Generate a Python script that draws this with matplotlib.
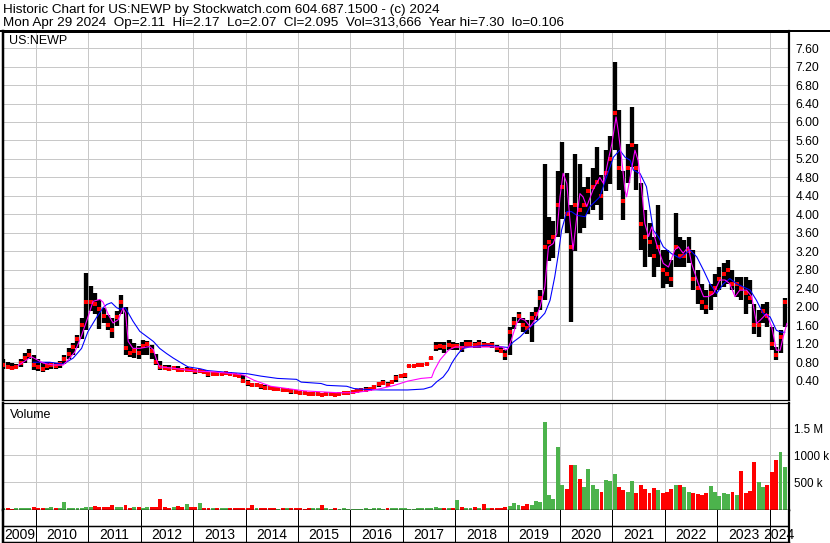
import matplotlib
matplotlib.use("Agg")
import matplotlib.pyplot as plt
import numpy as np
from matplotlib.lines import Line2D

# ---- data (monthly bars, Apr 2009 .. Apr 2024) ----
first_year, first_month = 2009, 4

price_hi = [
    0.82, 0.88, 0.80, 0.78, 0.76, 0.88, 0.99, 1.08, 0.95,
    0.88, 0.78, 0.80, 0.80, 0.78, 0.82, 0.95, 1.10, 1.22, 1.40, 1.75, 2.74,
    2.45, 2.30, 2.15, 1.98, 1.82, 1.75, 1.90, 2.25, 2.00, 1.30, 1.22, 1.15,
    1.28, 1.25, 1.18, 0.98, 0.82, 0.74, 0.74, 0.71, 0.71, 0.68, 0.69, 0.68,
    0.64, 0.63, 0.62, 0.59, 0.58, 0.56, 0.58, 0.59, 0.57, 0.57, 0.55, 0.52,
    0.42, 0.35, 0.34, 0.32, 0.30, 0.28, 0.27, 0.27, 0.23, 0.23, 0.21, 0.19,
    0.18, 0.16, 0.14, 0.16, 0.16, 0.14, 0.16, 0.16, 0.14, 0.16, 0.16, 0.17,
    0.19, 0.21, 0.23, 0.27, 0.27, 0.30, 0.37, 0.41, 0.37, 0.42, 0.52, 0.55,
    0.56, 0.75, 0.74, 0.77, 0.77, 0.78, 0.92, 1.24, 1.24, 1.24, 1.28, 1.24,
    1.21, 1.24, 1.28, 1.28, 1.24, 1.28, 1.24, 1.22, 1.24, 1.17, 1.13, 1.06,
    1.57, 1.78, 1.89, 1.75, 1.71, 1.89, 2.00, 2.36, 5.10, 3.95, 3.85, 4.95,
    5.57, 4.90, 4.20, 5.30, 5.10, 4.60, 4.80, 5.00, 5.45, 4.85, 5.40, 5.70,
    7.30, 6.25, 4.95, 5.53, 6.33, 5.53, 4.67, 4.10, 3.81, 3.52, 4.20, 3.23,
    3.23, 3.01, 4.02, 3.52, 3.45, 3.52, 3.23, 2.80, 2.50, 2.36, 2.50, 2.72,
    2.87, 2.94, 3.01, 2.79, 2.65, 2.65, 2.65, 2.58, 2.07, 1.92, 2.07, 2.11,
    1.56, 1.13, 1.49, 2.18,
]
price_lo = [
    0.66, 0.66, 0.65, 0.64, 0.67, 0.70, 0.78, 0.88, 0.64,
    0.62, 0.58, 0.64, 0.66, 0.66, 0.68, 0.76, 0.88, 0.95, 1.10, 1.30, 1.50,
    1.90, 1.85, 1.52, 1.65, 1.50, 1.32, 1.58, 1.85, 0.95, 0.92, 0.90, 0.88,
    0.95, 0.95, 0.88, 0.74, 0.64, 0.63, 0.62, 0.63, 0.60, 0.60, 0.61, 0.60,
    0.55, 0.56, 0.55, 0.48, 0.52, 0.51, 0.52, 0.53, 0.52, 0.48, 0.47, 0.34,
    0.29, 0.27, 0.26, 0.23, 0.19, 0.19, 0.18, 0.17, 0.16, 0.16, 0.12, 0.11,
    0.09, 0.09, 0.07, 0.09, 0.07, 0.07, 0.07, 0.08, 0.07, 0.09, 0.11, 0.11,
    0.12, 0.14, 0.16, 0.18, 0.19, 0.23, 0.27, 0.30, 0.27, 0.34, 0.37, 0.45,
    0.45, 0.70, 0.70, 0.72, 0.74, 0.75, 0.85, 1.05, 1.06, 0.99, 1.06, 1.06,
    1.06, 1.02, 1.10, 1.13, 1.10, 1.10, 1.13, 1.13, 1.10, 1.02, 0.99, 0.85,
    0.95, 1.53, 1.64, 1.46, 1.42, 1.24, 1.71, 1.93, 2.14, 3.00, 3.05, 3.50,
    3.90, 3.60, 1.67, 3.20, 3.60, 3.70, 4.00, 4.10, 4.20, 3.87, 4.50, 4.65,
    5.39, 4.52, 3.87, 4.67, 5.03, 4.52, 3.23, 2.87, 3.08, 2.65, 2.87, 2.40,
    2.50, 2.43, 2.87, 2.87, 2.87, 2.94, 2.36, 2.07, 1.92, 1.85, 1.92, 2.22,
    2.36, 2.43, 2.50, 2.36, 2.22, 2.14, 1.85, 2.07, 1.42, 1.35, 1.64, 1.57,
    1.06, 0.84, 0.99, 1.56,
]
price_close = [
    0.72, 0.75, 0.70, 0.68, 0.70, 0.78, 0.90, 0.95, 0.75,
    0.70, 0.65, 0.72, 0.74, 0.72, 0.76, 0.86, 0.98, 1.12, 1.30, 1.60, 2.10,
    2.10, 2.05, 1.95, 1.80, 1.60, 1.50, 1.78, 2.10, 1.10, 1.00, 1.05, 1.00,
    1.15, 1.20, 1.05, 0.80, 0.70, 0.68, 0.66, 0.67, 0.64, 0.63, 0.64, 0.63,
    0.60, 0.60, 0.58, 0.55, 0.55, 0.54, 0.55, 0.56, 0.54, 0.52, 0.50, 0.40,
    0.35, 0.30, 0.30, 0.28, 0.25, 0.24, 0.22, 0.22, 0.20, 0.20, 0.17, 0.15,
    0.14, 0.13, 0.11, 0.12, 0.12, 0.10, 0.11, 0.12, 0.10, 0.12, 0.13, 0.14,
    0.15, 0.17, 0.19, 0.20, 0.23, 0.26, 0.32, 0.35, 0.31, 0.38, 0.45, 0.50,
    0.52, 0.72, 0.72, 0.75, 0.75, 0.77, 0.90, 1.12, 1.15, 1.12, 1.18, 1.15,
    1.15, 1.10, 1.20, 1.20, 1.18, 1.20, 1.18, 1.18, 1.17, 1.10, 1.05, 0.95,
    1.45, 1.65, 1.80, 1.60, 1.55, 1.75, 1.85, 2.20, 3.30, 3.40, 3.50, 4.20,
    4.60, 4.00, 3.30, 4.20, 4.10, 4.20, 4.50, 4.60, 4.70, 4.40, 4.90, 5.20,
    6.20, 5.00, 4.30, 5.00, 5.50, 5.00, 3.80, 3.50, 3.40, 3.10, 3.30, 2.80,
    2.70, 2.60, 3.30, 3.10, 3.10, 3.20, 2.60, 2.40, 2.10, 2.00, 2.30, 2.40,
    2.60, 2.70, 2.80, 2.50, 2.50, 2.40, 2.30, 2.20, 1.60, 1.60, 1.90, 1.80,
    1.20, 0.95, 1.35, 2.10,
]
volume_k = [
    20, 25, 20, 18, 20, 22, 25, 30, 37,
    25, 30, 28, 43, 25, 30, 136, 30, 25, 35, 30, 40,
    45, 62, 50, 40, 55, 87, 40, 45, 74, 35, 50, 45,
    35, 55, 45, 40, 200, 40, 30, 45, 60, 40, 105, 40,
    50, 118, 35, 30, 25, 30, 25, 30, 25, 20, 25, 30,
    30, 87, 30, 25, 20, 25, 20, 18, 20, 22, 20, 25,
    20, 18, 22, 20, 25, 87, 20, 18, 20, 18, 20, 15,
    15, 18, 15, 20, 18, 20, 22, 18, 20, 25, 20, 22,
    20, 18, 15, 20, 22, 25, 30, 40, 35, 25, 30, 25,
    167, 40, 30, 35, 55, 30, 105, 35, 30, 35, 25, 50,
    60, 120, 80, 70, 105, 90, 150, 136, 1612, 260, 200, 1160,
    446, 380, 818, 818, 560, 420, 756, 446, 380, 320, 540, 520,
    650, 420, 360, 330, 520, 300, 446, 380, 300, 400, 360, 300,
    320, 380, 446, 446, 420, 330, 300, 280, 260, 300, 428, 320,
    250, 300, 280, 320, 260, 707, 300, 350, 880, 500, 420, 450,
    690, 911, 1066, 787,
]

# moving averages (decimal year, price)
fast_ma_t = [2009.66, 2009.91, 2010.14, 2010.33, 2010.52, 2010.58, 2010.74, 2010.87, 2010.98,
             2011.09, 2011.22, 2011.28, 2011.38, 2011.47, 2011.57, 2011.66, 2011.71, 2011.76,
             2011.85, 2011.98, 2012.17, 2012.24, 2012.30, 2012.36, 2012.62, 2013.02, 2013.40,
             2013.78, 2013.97, 2014.16, 2014.48, 2014.80, 2015.12, 2015.44, 2015.76, 2016.07,
             2016.33, 2016.58, 2016.84, 2017.09, 2017.35, 2017.55, 2017.60, 2017.71, 2017.87,
             2018.00, 2018.90, 2018.96, 2019.01, 2019.07, 2019.17, 2019.24, 2019.33, 2019.43,
             2019.52, 2019.62, 2019.71, 2019.78, 2019.87, 2019.94, 2020.00, 2020.06, 2020.13,
             2020.19, 2020.25, 2020.32, 2020.38, 2020.44, 2020.51, 2020.63, 2020.76, 2020.83,
             2020.92, 2020.99, 2021.07, 2021.11, 2021.18, 2021.24, 2021.27, 2021.34, 2021.43,
             2021.49, 2021.56, 2021.62, 2021.69, 2021.75, 2021.84, 2021.97, 2022.07, 2022.19,
             2022.26, 2022.35, 2022.45, 2022.51, 2022.64, 2022.74, 2022.83, 2022.93, 2023.05,
             2023.15, 2023.24, 2023.34, 2023.43, 2023.56, 2023.66, 2023.75, 2023.82, 2023.94,
             2024.04, 2024.13, 2024.20, 2024.26, 2024.33]
fast_ma = [0.73, 0.92, 0.78, 0.74, 0.74, 0.81, 1.02, 1.38, 1.74,
           2.12, 2.16, 2.10, 1.83, 1.65, 1.72, 1.97, 1.86, 1.25,
           1.10, 1.10, 1.14, 1.07, 0.85, 0.70, 0.67, 0.61, 0.59,
           0.55, 0.52, 0.41, 0.28, 0.23, 0.18, 0.16, 0.14, 0.14,
           0.18, 0.23, 0.30, 0.39, 0.45, 0.47, 0.62, 0.85, 1.06,
           1.13, 1.13, 1.06, 1.10, 1.28, 1.64, 1.75, 1.71, 1.57,
           1.71, 2.00, 2.43, 3.30, 3.37, 3.59, 4.38, 4.89, 4.67,
           3.88, 3.23, 3.95, 4.45, 4.38, 4.17, 4.53, 4.80, 4.67,
           5.17, 5.53, 6.11, 5.82, 5.17, 4.52, 4.38, 4.81, 5.39,
           5.17, 4.52, 3.80, 3.52, 3.73, 3.37, 2.94, 2.86, 3.23,
           3.30, 3.16, 3.30, 2.94, 2.50, 2.22, 2.22, 2.29, 2.58,
           2.58, 2.50, 2.22, 2.36, 2.36, 2.22, 1.64, 1.71, 1.85,
           1.57, 1.06, 1.06, 1.35, 1.64]

slow_ma_t = [2009.95, 2010.26, 2010.52, 2010.71, 2010.87, 2010.99, 2011.15, 2011.28, 2011.35,
             2011.44, 2011.54, 2011.60, 2011.70, 2011.76, 2011.85, 2011.98, 2012.11, 2012.24,
             2012.36, 2012.49, 2012.62, 2012.78, 2012.90, 2013.13, 2013.27, 2013.66, 2014.04,
             2014.29, 2014.61, 2014.97, 2015.06, 2015.44, 2015.55, 2015.93, 2016.07, 2016.33,
             2016.58, 2017.09, 2017.40, 2017.55, 2017.65, 2017.77, 2017.87, 2017.93, 2017.99,
             2018.06, 2018.15, 2018.28, 2018.60, 2018.92, 2019.01, 2019.11, 2019.24, 2019.36,
             2019.49, 2019.62, 2019.71, 2019.81, 2019.90, 2019.97, 2020.03, 2020.13, 2020.22,
             2020.32, 2020.48, 2020.57, 2020.70, 2020.76, 2020.89, 2021.02, 2021.14, 2021.24,
             2021.34, 2021.40, 2021.53, 2021.65, 2021.78, 2021.88, 2021.97, 2022.13, 2022.29,
             2022.48, 2022.61, 2022.74, 2022.86, 2022.99, 2023.12, 2023.24, 2023.37, 2023.50,
             2023.63, 2023.75, 2023.88, 2024.01, 2024.13, 2024.23, 2024.29]
slow_ma = [0.80, 0.80, 0.76, 0.89, 1.10, 1.46, 1.76, 1.98, 2.05,
           2.09, 1.98, 1.95, 1.98, 1.87, 1.69, 1.47, 1.36, 1.25,
           1.10, 0.99, 0.89, 0.78, 0.70, 0.66, 0.62, 0.58, 0.55,
           0.50, 0.45, 0.43, 0.37, 0.34, 0.30, 0.28, 0.23, 0.21,
           0.20, 0.20, 0.22, 0.27, 0.38, 0.48, 0.63, 0.77, 0.88,
           0.99, 1.10, 1.13, 1.17, 1.13, 1.12, 1.24, 1.35, 1.49,
           1.62, 1.75, 1.86, 2.14, 2.65, 3.15, 3.66, 4.06, 4.06,
           3.98, 3.95, 4.17, 4.31, 4.38, 4.82, 5.24, 5.39, 5.24,
           5.17, 4.96, 4.88, 4.60, 3.66, 3.51, 3.30, 3.15, 3.05,
           3.23, 3.08, 2.79, 2.50, 2.29, 2.50, 2.61, 2.50, 2.43,
           2.36, 2.14, 1.85, 1.78, 1.49, 1.45, 1.45]

price_ticks = [0.4, 0.8, 1.2, 1.6, 2.0, 2.4, 2.8, 3.2, 3.6, 4.0,
               4.4, 4.8, 5.2, 5.6, 6.0, 6.4, 6.8, 7.2, 7.6]
vol_ticks = [500, 1000, 1500]
vol_tick_labels = ["500 k", "1000 k", "1.5 M"]
years = list(range(2009, 2025))

title1 = "Historic Chart for US:NEWP by Stockwatch.com 604.687.1500 - (c) 2024"
title2 = ("Mon Apr 29 2024  Op=2.11  Hi=2.17  Lo=2.07  Cl=2.095  "
          "Vol=313,666  Year hi=7.30  lo=0.106")

# ---- layout helpers (pixel coords of the 830x543 picture) ----
W, H = 830, 543
plt.rcParams["font.family"] = ["Liberation Sans", "DejaVu Sans"]


def fx(px):
    return px / W


def fy(py):
    return 1 - py / H


def px_to_year(px):
    # 2010 gridline sits at x=36, one year is 52.4 px wide
    return 2010 + (px - 36) / 52.4


PL, PR = 2.5, 789.0
xlim = (px_to_year(PL), px_to_year(PR))
PX = 1 / 1.389  # one pixel in points

n = len(price_close)
t = np.array([first_year + (first_month - 1 + i + 0.5) / 12 for i in range(n)])
hi = np.array(price_hi)
lo = np.array(price_lo)
cl = np.array(price_close)
vol = np.array(volume_k)
prev = np.concatenate([[cl[0]], cl[:-1]])
up = cl >= prev

grid_kw = dict(color="#c8c8c8", linewidth=1.0 * PX)

fig = plt.figure(figsize=(W / 100, H / 100), dpi=100)
fig.patch.set_facecolor("white")

# ---- price panel ----
ax = fig.add_axes([fx(PL), fy(400), fx(PR) - fx(PL), fy(31.5) - fy(400)])
ax.set_xlim(*xlim)
ax.set_ylim((399.2 - 400) / 46.2, (399.2 - 31.5) / 46.2)
ax.set_xticks(years[1:])
ax.set_yticks(price_ticks)
ax.set_yticklabels([f"{v:.2f}" for v in price_ticks])
ax.grid(True, **grid_kw)
ax.set_axisbelow(True)
ax.yaxis.tick_right()
ax.tick_params(axis="x", length=0, labelbottom=False)
ax.tick_params(axis="y", length=0, pad=4.5, labelsize=8.7)

ax.vlines(t, lo, hi, colors="black", linewidth=4.3 * PX, capstyle="butt", zorder=2)
ax.plot(t, cl, "s", color="#ff0000", markersize=2.2, markeredgewidth=0, zorder=3)
ax.plot(slow_ma_t, slow_ma, color="#0000ff", linewidth=1.1 * PX, zorder=4)
ax.plot(fast_ma_t, fast_ma, color="#ff00ff", linewidth=1.1 * PX, zorder=5)

for side, lw in (("left", 2.5), ("right", 2.2), ("top", 2.0), ("bottom", 1.2)):
    ax.spines[side].set_linewidth(lw * PX)
    ax.spines[side].set_color("black")

fig.text(fx(9), fy(41), "US:NEWP", fontsize=9, va="center", ha="left")

# ---- volume panel ----
av = fig.add_axes([fx(PL), fy(509.5), fx(PR) - fx(PL), fy(402.5) - fy(509.5)])
av.set_xlim(*xlim)
av.set_ylim(0, 1976)
av.set_xticks(years[1:])
av.set_yticks(vol_ticks)
av.set_yticklabels(vol_tick_labels)
av.grid(True, **grid_kw)
av.set_axisbelow(True)
av.yaxis.tick_right()
av.tick_params(axis="x", length=0, labelbottom=False)
av.tick_params(axis="y", length=0, pad=3.5, labelsize=8.4)
av.bar(t, vol, width=0.9 / 12, color=np.where(up, "#4cb34c", "#ff0000"),
       linewidth=0, zorder=2)
for side, lw in (("left", 2.5), ("right", 2.2), ("top", 1.2), ("bottom", 1.5)):
    av.spines[side].set_linewidth(lw * PX)
    av.spines[side].set_color("black")
fig.text(fx(9.5), fy(418), "Volume", fontsize=9, va="baseline", ha="left")

# ---- date axis rows ----
ad = fig.add_axes([fx(PL), fy(542), fx(PR) - fx(PL), fy(509.5) - fy(542)])
ad.set_xlim(*xlim)
ad.set_ylim(0, 1)
ad.set_xticks([])
ad.set_yticks([])
for yr in years[1:]:
    ad.axvline(yr, color="black", linewidth=1.0 * PX)
ad.axhline(0.48, color="black", linewidth=1.5 * PX)
for yr in years:
    a, b = max(yr, xlim[0]), min(yr + 1, xlim[1])
    ad.text((a + b) / 2, 0.23, str(yr), ha="center", va="center", fontsize=10,
            family=["Liberation Sans Narrow", "Liberation Sans"])
for side, lw in (("left", 2.5), ("right", 2.2), ("top", 0), ("bottom", 1.5)):
    ad.spines[side].set_linewidth(lw * PX)
    ad.spines[side].set_color("black")

# top rule runs across the full width
fig.add_artist(Line2D([0, 1], [fy(31.3), fy(31.3)], color="black", linewidth=2.0 * PX))

# ---- header ----
fig.text(fx(3), fy(12.7), title1, fontsize=9.7, va="baseline", ha="left")
fig.text(fx(3), fy(26.3), title2, fontsize=9.7, va="baseline", ha="left")

fig.savefig("out.png", dpi=100, facecolor="white")
